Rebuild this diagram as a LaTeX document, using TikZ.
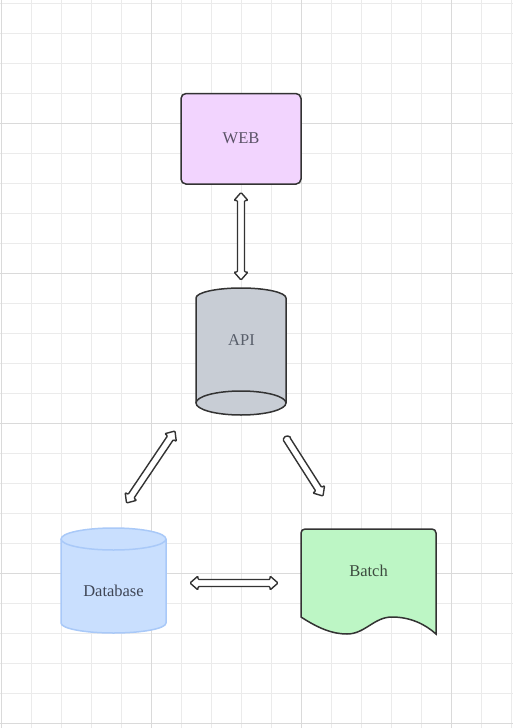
\documentclass[tikz,border=0pt]{standalone}
\usepackage{fontspec}
\setmainfont{Liberation Serif}
\usetikzlibrary{calc}
\definecolor{gridminor}{HTML}{EBEBEB}
\definecolor{gridmajor}{HTML}{DADADA}
\definecolor{strokedark}{HTML}{333333}
\definecolor{webfill}{HTML}{F2D4FE}
\definecolor{webtext}{HTML}{5A5266}
\definecolor{apifill}{HTML}{C8CDD5}
\definecolor{apitext}{HTML}{585E6A}
\definecolor{dbfill}{HTML}{C9DFFE}
\definecolor{dbstroke}{HTML}{A9C9F8}
\definecolor{dbtext}{HTML}{3F4656}
\definecolor{batchfill}{HTML}{BDF6C5}
\definecolor{batchtext}{HTML}{3C4A3E}
\def\asw{3.5pt}
\def\ahw{7pt}
\def\ahl{8pt}
\newcommand\blkdbl[2]{%
  \coordinate (#1-p) at ($(#1)!\ahl!(#2)$);
  \coordinate (#1-q) at ($(#2)!\ahl!(#1)$);
  \draw[blockarrow] (#1)
    -- ($(#1-p)!\ahw!90:(#2)$) -- ($(#1-p)!\asw!90:(#2)$)
    -- ($(#1-q)!\asw!90:(#2)$) -- ($(#1-q)!\ahw!90:(#2)$)
    -- (#2)
    -- ($(#1-q)!\ahw!-90:(#2)$) -- ($(#1-q)!\asw!-90:(#2)$)
    -- ($(#1-p)!\asw!-90:(#2)$) -- ($(#1-p)!\ahw!-90:(#2)$)
    -- cycle;}
\newcommand\blksgl[2]{%
  \coordinate (#1-q) at ($(#2)!\ahl!(#1)$);
  \draw[blockarrow] let \p1=($(#2)-(#1)$), \n1={atan2(\y1,\x1)} in
    ($(#1)!\asw!90:(#2)$)
    -- ($(#1-q)!\asw!90:(#2)$) -- ($(#1-q)!\ahw!90:(#2)$)
    -- (#2)
    -- ($(#1-q)!\ahw!-90:(#2)$) -- ($(#1-q)!\asw!-90:(#2)$)
    -- ($(#1)!\asw!-90:(#2)$)
    arc[start angle=\n1-90, delta angle=-180, radius=\asw] -- cycle;}
\begin{document}
\begin{tikzpicture}[x=1pt,y=-1pt,
  minorline/.style={draw=gridminor,line width=1pt},
  majorline/.style={draw=gridmajor,line width=1pt},
  shapeline/.style={draw=strokedark,line width=1.5pt},
  blockarrow/.style={draw=strokedark,fill=white,line width=1.4pt,rounded corners=1pt,line join=round},
  label/.style={font=\fontsize{16.5}{20}\selectfont,inner sep=0pt}]
\useasboundingbox (0,0) rectangle (513,728);
\fill[white] (0,0) rectangle (513,728);
% grid
\foreach \x in {1.5,31.5,...,511.5} \draw[minorline] (\x,0) -- (\x,728);
\foreach \y in {3.3,33.3,...,724} \draw[minorline] (0,\y) -- (513,\y);
\foreach \x in {1.5,151.5,301.5,451.5} \draw[majorline] (\x,0) -- (\x,728);
\foreach \y in {123.3,273.3,423.3,573.3,723.3} \draw[majorline] (0,\y) -- (513,\y);
% WEB
\node[shapeline,fill=webfill,rounded corners=5pt,minimum width=120pt,minimum height=90.5pt,inner sep=0pt] (webbox) at (241,138.8) {};
\node[label,text=webtext] (web) at (241,138.5) {WEB};
% API cylinder
\path[shapeline,fill=apifill] (196,298) arc[start angle=180,end angle=0,x radius=45pt,y radius=10pt]
  -- (286,403) arc[start angle=0,end angle=-180,x radius=45pt,y radius=12pt] -- cycle;
\draw[shapeline] (196,403) arc[start angle=180,end angle=0,x radius=45pt,y radius=12pt];
\node[label,text=apitext] (api) at (241.5,340) {API};
% Database cylinder
\path[draw=dbstroke,line width=1.5pt,fill=dbfill] (61,539) arc[start angle=180,end angle=0,x radius=52.5pt,y radius=11pt]
  -- (166,623) arc[start angle=0,end angle=-180,x radius=52.5pt,y radius=10pt] -- cycle;
\draw[draw=dbstroke,line width=1.5pt] (61,539) arc[start angle=180,end angle=360,x radius=52.5pt,y radius=11pt];
\node[label,text=dbtext] (db) at (113.5,591) {Database};
% Batch document
\path[shapeline,fill=batchfill] (301,617) -- (301,533) arc[start angle=180,end angle=90,radius=4pt]
  -- (432,529) arc[start angle=90,end angle=0,radius=4pt]
  -- (436,634) .. controls (425,624) and (410,617) .. (392,617)
  .. controls (374,617) and (365,634) .. (347,634)
  .. controls (332,634) and (318,628) .. (301,617) -- cycle;
\node[label,text=batchtext] (batch) at (368.5,571) {Batch};
% connector end points
\coordinate (webend) at (241,192.5);
\coordinate (apitop) at (241,280);
\coordinate (apileft) at (175,431);
\coordinate (dbtop) at (126.5,503);
\coordinate (apiright) at (287,439.5);
\coordinate (batchtop) at (323,496);
\coordinate (dbright) at (190,583);
\coordinate (batchleft) at (278,583);
% connectors
\blkdbl{webend}{apitop}
\blkdbl{apileft}{dbtop}
\blksgl{apiright}{batchtop}
\blkdbl{dbright}{batchleft}
\end{tikzpicture}
\end{document}
